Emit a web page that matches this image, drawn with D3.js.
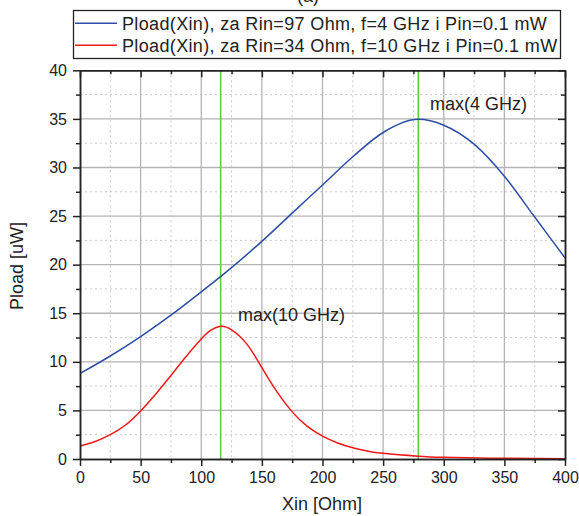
<!DOCTYPE html>
<html><head><meta charset="utf-8">
<script src="https://cdn.jsdelivr.net/npm/d3@7"></script>
<style>body{margin:0;background:#fff;}svg{display:block;font-family:Arial,"Liberation Sans",sans-serif;}</style>
</head><body><div id="chart"></div>
<script>
const xBlue = [0,25,50,75,100,125,150,175,200,225,250,279,300,325,350,375,400];
const yBlue = [8.8,10.6,12.6,14.8,17.2,19.7,22.4,25.3,28.2,31.1,33.6,34.95,34.35,32.4,29.1,24.9,20.7];
const xRed = [0,12.5,25,37.5,50,62.5,75,87.5,100,108,116,125,137.5,150,162.5,175,187.5,200,212.5,225,237.5,250,279,300,350,400];
const yRed = [1.34,1.8,2.5,3.5,4.95,6.7,8.6,10.55,12.35,13.25,13.66,13.3,11.85,9.4,6.9,4.85,3.35,2.35,1.65,1.15,0.8,0.58,0.28,0.17,0.07,0.03];
const markers = [116,279];
const xTicks = [0,50,100,150,200,250,300,350,400];
const yTicks = [0,5,10,15,20,25,30,35,40];
const xMinor = [25,75,125,175,225,275,325,375];
const yMinor = [2.5,7.5,12.5,17.5,22.5,27.5,32.5,37.5];
const legendLabels = ["Pload(Xin), za Rin=97 Ohm, f=4 GHz i Pin=0.1 mW","Pload(Xin), za Rin=34 Ohm, f=10 GHz i Pin=0.1 mW"];
const colors = ["#2e4ea6","#f01818"];

const W=579,H=516;
const L=80,R=565,T=70.3,B=459;
const svg=d3.select("#chart").append("svg").attr("width",W).attr("height",H);
const x=d3.scaleLinear().domain([0,400]).range([L,R]);
const y=d3.scaleLinear().domain([0,40]).range([B,T]);

// grid
const g=svg.append("g");
g.selectAll(".vmin").data(xMinor).enter().append("line").attr("x1",d=>x(d)).attr("x2",d=>x(d)).attr("y1",T).attr("y2",B).attr("stroke","#c8c8c8").attr("stroke-width",1).attr("stroke-dasharray","2,3");
g.selectAll(".hmin").data(yMinor).enter().append("line").attr("y1",d=>y(d)).attr("y2",d=>y(d)).attr("x1",L).attr("x2",R).attr("stroke","#c8c8c8").attr("stroke-width",1).attr("stroke-dasharray","2,3");
g.selectAll(".vmaj").data(xTicks.slice(1,-1)).enter().append("line").attr("x1",d=>x(d)).attr("x2",d=>x(d)).attr("y1",T).attr("y2",B).attr("stroke","#b4b4b4").attr("stroke-width",1.3);
g.selectAll(".hmaj").data(yTicks.slice(1,-1)).enter().append("line").attr("y1",d=>y(d)).attr("y2",d=>y(d)).attr("x1",L).attr("x2",R).attr("stroke","#b4b4b4").attr("stroke-width",1.3);

// green markers
svg.selectAll(".mk").data(markers).enter().append("line").attr("x1",d=>x(d)).attr("x2",d=>x(d)).attr("y1",T).attr("y2",B).attr("stroke","#6cc644").attr("stroke-width",1.6);

// curves
const lineBlue=d3.line().x(d=>x(d[0])).y(d=>y(d[1])).curve(d3.curveMonotoneX);
const lineRed=d3.line().x(d=>x(d[0])).y(d=>y(d[1])).curve(d3.curveNatural);
svg.append("path").datum(xBlue.map((v,i)=>[v,yBlue[i]])).attr("d",lineBlue).attr("fill","none").attr("stroke",colors[0]).attr("stroke-width",1.5);
svg.append("path").datum(xRed.map((v,i)=>[v,yRed[i]])).attr("d",lineRed).attr("fill","none").attr("stroke",colors[1]).attr("stroke-width",1.5);

// axes
function ax(axis,tr){
  const a=svg.append("g").attr("transform",tr).call(axis);
  a.selectAll("text").attr("font-size",16).attr("fill","#222").attr("font-family","Arial,'Liberation Sans',sans-serif");
  a.select(".domain").attr("stroke","#222").attr("stroke-width",1.5);
  a.selectAll(".tick line").attr("stroke","#222").attr("stroke-width",1.5);
  return a;
}
ax(d3.axisBottom(x).tickValues(xTicks).tickSize(7).tickSizeOuter(0).tickPadding(6),`translate(0,${B})`);
ax(d3.axisBottom(x).tickValues(xMinor).tickSize(4).tickSizeOuter(0).tickFormat(""),`translate(0,${B})`);
ax(d3.axisLeft(y).tickValues(yTicks).tickSize(7).tickSizeOuter(0).tickPadding(6),`translate(${L},0)`);
ax(d3.axisLeft(y).tickValues(yMinor).tickSize(4).tickSizeOuter(0).tickFormat(""),`translate(${L},0)`);
ax(d3.axisBottom(x).tickValues(xTicks).tickSize(7).tickSizeOuter(0).tickFormat(""),`translate(0,${T})`);
ax(d3.axisBottom(x).tickValues(xMinor).tickSize(4).tickSizeOuter(0).tickFormat(""),`translate(0,${T})`);
ax(d3.axisLeft(y).tickValues(yTicks).tickSize(7).tickSizeOuter(0).tickFormat(""),`translate(${R},0)`);
ax(d3.axisLeft(y).tickValues(yMinor).tickSize(4).tickSizeOuter(0).tickFormat(""),`translate(${R},0)`);

// annotations
svg.append("text").attr("x",430).attr("y",110).attr("font-size",18).attr("fill","#222").text("max(4 GHz)");
svg.append("text").attr("x",238).attr("y",321).attr("font-size",18).attr("fill","#222").text("max(10 GHz)");

// labels
svg.append("text").attr("x",322).attr("y",510).attr("text-anchor","middle").attr("font-size",18).attr("fill","#222").text("Xin [Ohm]");
svg.append("text").attr("transform","translate(23,266) rotate(-90)").attr("text-anchor","middle").attr("font-size",18).attr("fill","#222").text("Pload [uW]");
svg.append("text").attr("x",308).attr("y",2).attr("text-anchor","middle").attr("font-size",18).attr("fill","#222").text("(a)");

// legend
const lg=svg.append("g");
lg.append("rect").attr("x",73.5).attr("y",10.5).attr("width",487).attr("height",48).attr("fill","#fff").attr("stroke","#222").attr("stroke-width",1.3);
legendLabels.forEach((t,i)=>{
  const yy=23.3+i*22;
  lg.append("line").attr("x1",75).attr("x2",117).attr("y1",yy).attr("y2",yy).attr("stroke",colors[i]).attr("stroke-width",1.5);
  lg.append("text").attr("x",122).attr("y",yy+6.3).attr("font-size",18).attr("letter-spacing",0.35).attr("fill","#222").text(t);
});
</script></body></html>
